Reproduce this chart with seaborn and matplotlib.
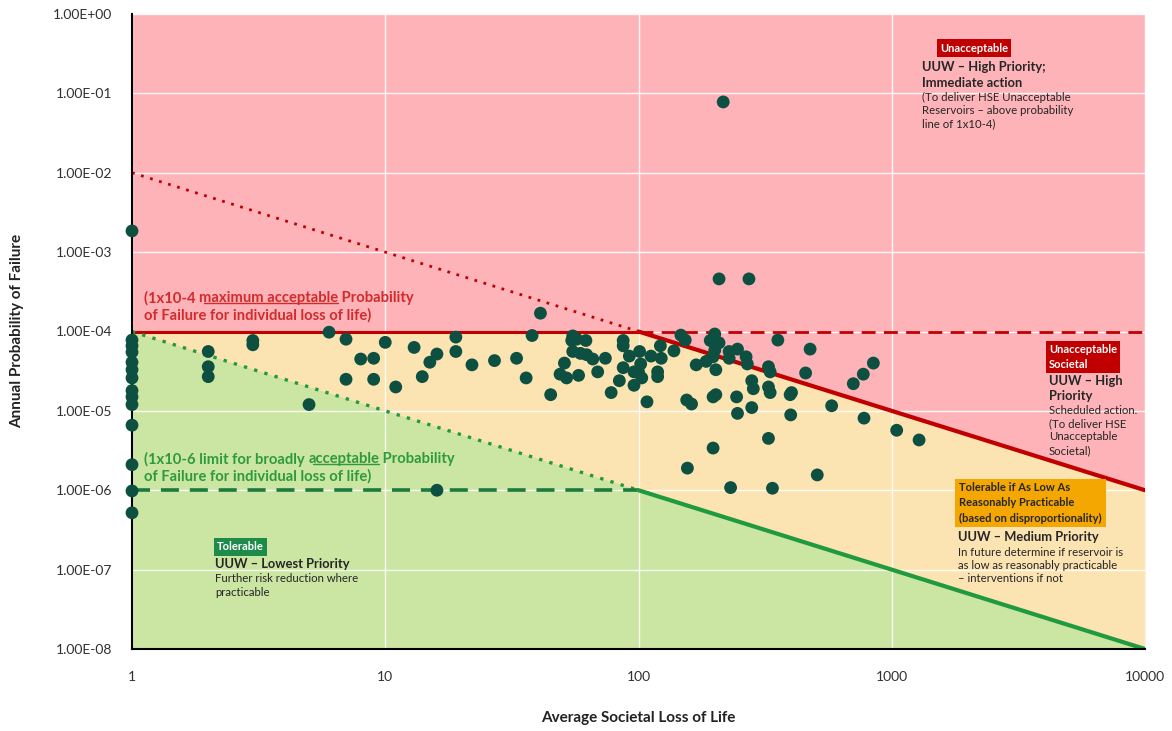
import numpy as np
import pandas as pd
import matplotlib
matplotlib.use("Agg")
import matplotlib.pyplot as plt
import seaborn as sns
from matplotlib.ticker import FixedLocator, FixedFormatter, NullLocator

# ---------------- data ----------------
loss_of_life = [
    1, 1, 1, 1, 1, 1, 1, 1, 1, 1, 1, 1, 1, 1,
    2, 2, 2, 3, 3, 5, 6, 7, 7, 8, 9, 9, 10, 11, 13, 14, 15, 16, 16, 19, 19,
    22, 27, 33, 36, 38, 41, 45, 49, 51, 52, 55, 55, 54.5, 57, 62, 59, 62.4, 66, 58,
    69, 74, 78, 84, 87, 87, 87, 92, 96, 96, 101, 102, 100, 103, 108, 112, 119, 119,
    122, 123, 138, 147, 153, 155, 162, 169, 156, 185, 200, 192, 208, 200, 197, 202,
    202, 197, 228, 246, 228, 266, 269, 244, 246, 280, 284, 280, 197, 231, 326, 331,
    326, 331, 326, 338, 355, 397, 402, 399, 457, 476, 508, 579, 705, 772, 846, 777,
    1046, 1282, 216, 208, 273,
]
prob_failure = [
    1.85e-3, 7.8e-5, 6.6e-5, 5.5e-5, 4.1e-5, 3.3e-5, 2.6e-5, 1.8e-5, 1.5e-5, 1.2e-5,
    6.6e-6, 2.1e-6, 9.8e-7, 5.2e-7,
    5.6e-5, 3.6e-5, 2.7e-5, 7.7e-5, 6.8e-5, 1.2e-5, 9.8e-5, 8.0e-5, 2.5e-5, 4.5e-5,
    4.6e-5, 2.5e-5, 7.3e-5, 2.0e-5, 6.3e-5, 2.7e-5, 4.1e-5, 5.2e-5, 1.0e-6, 8.5e-5, 5.6e-5,
    3.8e-5, 4.3e-5, 4.6e-5, 2.6e-5, 8.9e-5, 1.7e-4, 1.6e-5, 2.9e-5, 4.0e-5, 2.6e-5,
    8.8e-5, 5.6e-5, 7.7e-5, 8.0e-5, 7.7e-5, 5.3e-5, 5.1e-5, 4.5e-5, 2.8e-5,
    3.1e-5, 4.6e-5, 1.7e-5, 2.4e-5, 7.7e-5, 6.6e-5, 3.5e-5, 4.9e-5, 3.1e-5, 2.1e-5,
    5.6e-5, 3.9e-5, 3.1e-5, 2.6e-5, 1.3e-5, 4.9e-5, 3.1e-5, 2.7e-5,
    6.6e-5, 4.6e-5, 5.7e-5, 9.0e-5, 7.8e-5, 1.37e-5, 1.22e-5, 3.8e-5, 1.9e-6, 4.2e-5,
    9.3e-5, 7.7e-5, 7.2e-5, 5.8e-5, 4.8e-5, 3.3e-5,
    1.6e-5, 1.5e-5, 5.6e-5, 6.0e-5, 4.6e-5, 4.8e-5, 3.9e-5, 1.5e-5, 9.3e-6, 2.4e-5,
    1.9e-5, 1.1e-5, 3.4e-6, 1.08e-6, 3.6e-5, 3.1e-5,
    2.0e-5, 1.7e-5, 4.5e-6, 1.06e-6, 7.8e-5, 1.6e-5, 1.7e-5, 8.9e-6, 3.0e-5, 6.0e-5,
    1.56e-6, 1.16e-5, 2.2e-5, 2.9e-5, 4.0e-5, 8.1e-6,
    5.7e-6, 4.3e-6, 7.8e-2, 4.6e-4, 4.6e-4,
]

# criteria lines (break points)
crit_n = [1, 100, 10000]
individual_max = [1e-4, 1e-4, 1e-4]       # 1x10-4 individual
societal_max = [1e-2, 1e-4, 1e-6]         # F*N = 1e-2
broadly_acceptable = [1e-4, 1e-6, 1e-8]   # F*N = 1e-4
individual_min = [1e-6, 1e-6]

x_ticks = [1, 10, 100, 1000, 10000]
x_tick_labels = ["1", "10", "100", "1000", "10000"]
y_ticks = [1e-8, 1e-7, 1e-6, 1e-5, 1e-4, 1e-3, 1e-2, 1e-1, 1e0]
y_tick_labels = ["1.00E-08", "1.00E-07", "1.00E-06", "1.00E-05", "1.00E-04",
                 "1.00E-03", "1.00E-02", "1.00E-01", "1.00E+00"]

df = pd.DataFrame({"loss": loss_of_life, "pof": prob_failure})

# ---------------- style ----------------
sns.set_theme(style="white")
plt.rcParams["font.family"] = ["Lato", "DejaVu Sans"]

W, H = 1172, 731
fig = plt.figure(figsize=(W / 100, H / 100), dpi=100)
ax = fig.add_axes([132 / W, 1 - 649 / H, (1145 - 132) / W, (649 - 14) / H])

PINK = "#FDB3B8"
YELLOW = "#FCE3B2"
GREEN = "#CBE5A2"
RED = "#C00000"
GLINE = "#1F9A3F"
GDASH = "#1C7A3E"
DOT = "#0D4F40"

ax.set_xscale("log")
ax.set_yscale("log")
ax.set_xlim(1, 10000)
ax.set_ylim(1e-8, 1)
ax.set_facecolor(PINK)

red_bound = [min(a, b) for a, b in zip(individual_max, societal_max)]
ax.fill_between(crit_n, broadly_acceptable, red_bound, color=YELLOW, lw=0, zorder=0.1)
ax.fill_between(crit_n, [1e-8] * 3, broadly_acceptable, color=GREEN, lw=0, zorder=0.2)

ax.xaxis.set_major_locator(FixedLocator(x_ticks))
ax.xaxis.set_major_formatter(FixedFormatter(x_tick_labels))
ax.xaxis.set_minor_locator(NullLocator())
ax.yaxis.set_major_locator(FixedLocator(y_ticks))
ax.yaxis.set_major_formatter(FixedFormatter(y_tick_labels))
ax.yaxis.set_minor_locator(NullLocator())
ax.set_axisbelow(True)
ax.grid(True, color="white", lw=1, alpha=0.9)
ax.tick_params(axis="both", length=0, labelsize=10, colors="#303030")
ax.tick_params(axis="y", pad=14)
ax.tick_params(axis="x", pad=16)

for s in ["top", "right"]:
    ax.spines[s].set_visible(False)
for s in ["left", "bottom"]:
    ax.spines[s].set_color("black")
    ax.spines[s].set_linewidth(1.5)
    ax.spines[s].set_zorder(3)

# criteria lines
ax.plot(crit_n[:2], individual_max[:2], color=RED, lw=2.2, zorder=2)
ax.plot(crit_n[1:], individual_max[1:], color=RED, lw=2, ls=(0, (5, 3)), zorder=2)
ax.plot(crit_n[:2], societal_max[:2], color=RED, lw=2.0, ls=(0, (1, 2.4)), zorder=2)
ax.plot(crit_n[1:], societal_max[1:], color=RED, lw=3, zorder=2)
ax.plot(crit_n[:2], broadly_acceptable[:2], color=GLINE, lw=2.4, ls=(0, (1, 2.2)), zorder=2)
ax.plot(crit_n[:2], individual_min, color=GDASH, lw=2.6, ls=(0, (5, 3)), zorder=2)
ax.plot(crit_n[1:], broadly_acceptable[1:], color=GLINE, lw=3, zorder=2)

sns.scatterplot(data=df, x="loss", y="pof", ax=ax, s=85, color=DOT,
                edgecolor="none", linewidth=0, zorder=4, clip_on=False, legend=False)

ax.set_xlabel("Average Societal Loss of Life", fontsize=11, fontweight="bold", color="#222222")
ax.set_ylabel("Annual Probability of Failure", fontsize=11, fontweight="bold", color="#222222")
ax.xaxis.set_label_coords(0.5, (649 - 718) / 635)
ax.xaxis.label.set_va("center")
ax.yaxis.set_label_coords((17 - 132) / 1013, (649 - 331) / 635)
ax.yaxis.label.set_va("center")


def fp(x, y):
    return x / W, 1 - y / H


renderer = fig.canvas.get_renderer()


def seg_text(x, y, segments, color, size):
    """Draw consecutive segments, underlining flagged ones."""
    cx = x
    for txt, ul in segments:
        t = fig.text(*fp(cx, y), txt, color=color, fontsize=size, fontweight="bold",
                     va="center", ha="left")
        bb = t.get_window_extent(renderer)
        if ul:
            uy = bb.y0 + 2
            fig.add_artist(plt.Line2D([bb.x0 / W + 0.004, bb.x1 / W], [uy / H, uy / H],
                                      color=color, lw=1))
        cx = bb.x1


TRED = "#D22B2B"
TGREEN = "#2E9A3E"
seg_text(144, 298, [("(1x10-4 ", False), ("maximum acceptable", True), (" Probability", False)], TRED, 10.6)
seg_text(144, 315, [("of Failure for individual loss of life)", False)], TRED, 10.6)
seg_text(144, 459, [("(1x10-6 limit for broadly ", False), ("acceptable", True), (" Probability", False)], TGREEN, 10.6)
seg_text(144, 476, [("of Failure for individual loss of life)", False)], TGREEN, 10.6)

DARK = "#262626"
BIG = 9.3
SMALL = 8.2

# top-right: unacceptable
fig.text(*fp(940, 48), "Unacceptable", fontsize=8, fontweight="bold", color="white",
         va="center", ha="left",
         bbox=dict(boxstyle="square,pad=0.3", fc=RED, ec="none"))
fig.text(*fp(922, 67), "UUW – High Priority;", fontsize=BIG, fontweight="bold", color=DARK, va="center")
fig.text(*fp(922, 83), "Immediate action", fontsize=BIG, fontweight="bold", color=DARK, va="center")
for i, line in enumerate(["(To deliver HSE Unacceptable", "Reservoirs – above probability", "line of 1x10-4)"]):
    fig.text(*fp(922, 97 + 13.5 * i), line, fontsize=SMALL, color=DARK, va="center")

# middle-right: unacceptable societal
fig.text(*fp(1049, 357), "Unacceptable\nSocietal", fontsize=8, fontweight="bold", color="white",
         va="center", ha="left", linespacing=1.35,
         bbox=dict(boxstyle="square,pad=0.3", fc=RED, ec="none"))
fig.text(*fp(1049, 381), "UUW – High", fontsize=BIG, fontweight="bold", color=DARK, va="center")
fig.text(*fp(1049, 396), "Priority", fontsize=BIG, fontweight="bold", color=DARK, va="center")
for i, line in enumerate(["Scheduled action.", "(To deliver HSE", "Unacceptable", "Societal)"]):
    fig.text(*fp(1049, 410 + 13.5 * i), line, fontsize=SMALL, color=DARK, va="center")

# lower-right: ALARP
fig.text(*fp(959, 503), "Tolerable if As Low As\nReasonably Practicable\n(based on disproportionality)",
         fontsize=8, fontweight="bold", color=DARK, va="center", ha="left", linespacing=1.45,
         bbox=dict(boxstyle="square,pad=0.35", fc="#F4A700", ec="none"))
fig.text(*fp(958, 537), "UUW – Medium Priority", fontsize=BIG, fontweight="bold", color=DARK, va="center")
for i, line in enumerate(["In future determine if reservoir is", "as low as reasonably practicable",
                          "– interventions if not"]):
    fig.text(*fp(958, 552 + 13.5 * i), line, fontsize=SMALL, color=DARK, va="center")

# lower-left: tolerable
fig.text(*fp(217, 547), "Tolerable", fontsize=8, fontweight="bold", color="white",
         va="center", ha="left",
         bbox=dict(boxstyle="square,pad=0.3", fc="#1E8B4A", ec="none"))
fig.text(*fp(215, 564), "UUW – Lowest Priority", fontsize=BIG, fontweight="bold", color=DARK, va="center")
for i, line in enumerate(["Further risk reduction where", "practicable"]):
    fig.text(*fp(215, 579 + 13.5 * i), line, fontsize=SMALL, color=DARK, va="center")

fig.savefig("out.png", dpi=100)
